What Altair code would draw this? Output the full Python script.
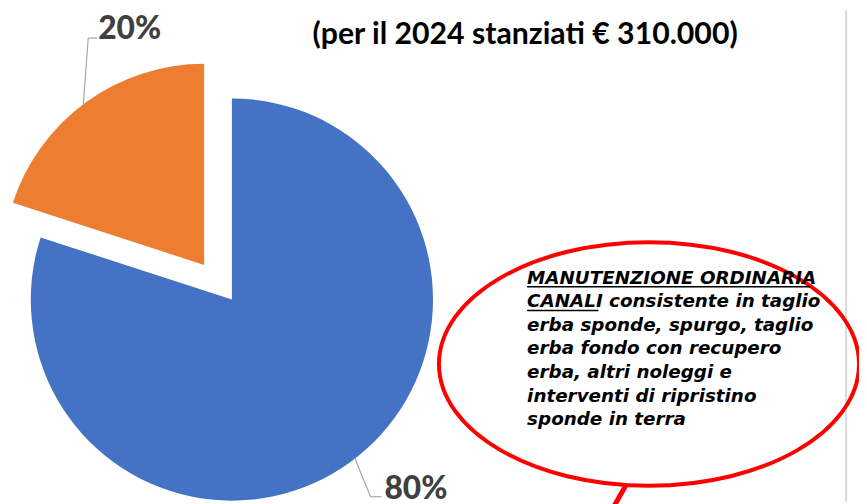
import altair as alt
import pandas as pd

# ---- data ----
categories = ["Manutenzione ordinaria canali", "Altri interventi"]
values = [80, 20]
order_idx = [0, 1]
pct_labels = ["80%", "20%"]
colors = ["#4472C4", "#ED7D31"]

title_text = "(per il 2024 stanziati € 310.000)"
note_lines = [
    "MANUTENZIONE ORDINARIA",
    "CANALI consistente in taglio",
    "erba sponde, spurgo, taglio",
    "erba fondo con recupero",
    "erba, altri noleggi e",
    "interventi di ripristino",
    "sponde in terra",
]

df = pd.DataFrame({"cat": categories, "value": values, "ord": order_idx, "label": pct_labels})

W, H = 859, 496
R = 203
FONT = "Lato"

theta = alt.Theta("value:Q", stack=True)
color = alt.Color("cat:N", scale=alt.Scale(domain=categories, range=colors), legend=None)
order = alt.Order("ord:Q")

blue = alt.Chart(df).mark_arc(outerRadius=R, stroke=None).encode(
    theta=theta, color=color, order=order,
    x=alt.value(226), y=alt.value(292),
    opacity=alt.condition(alt.datum.cat == categories[0], alt.value(1), alt.value(0)),
)
orange = alt.Chart(df).mark_arc(outerRadius=R, stroke=None).encode(
    theta=theta, color=color, order=order,
    x=alt.value(198), y=alt.value(257),
    opacity=alt.condition(alt.datum.cat == categories[1], alt.value(1), alt.value(0)),
)

leader_col = "#A6A6A6"
seg = pd.DataFrame({"a": [0]})
def rule(x1, y1, x2, y2, col, w):
    return alt.Chart(seg).mark_rule(color=col, strokeWidth=w).encode(
        x=alt.value(x1), y=alt.value(y1), x2=alt.value(x2), y2=alt.value(y2))

leaders = [
    rule(76, 95, 81, 28, leader_col, 1.2),
    rule(81, 28, 90, 28, leader_col, 1.2),
    rule(350, 452, 366, 491, leader_col, 1.2),
    rule(366, 491, 377, 491, leader_col, 1.2),
]

lab20 = alt.Chart(df).transform_filter(alt.datum.cat == categories[1]).mark_text(
    font=FONT, fontWeight=900, fontSize=32, color="#404040", align="left", baseline="alphabetic"
).encode(text="label:N", x=alt.value(91), y=alt.value(29))
lab80 = alt.Chart(df).transform_filter(alt.datum.cat == categories[0]).mark_text(
    font=FONT, fontWeight=900, fontSize=32, color="#404040", align="left", baseline="alphabetic"
).encode(text="label:N", x=alt.value(380), y=alt.value(493))

title = alt.Chart(seg).mark_text(
    font=FONT, fontWeight="bold", fontSize=30.5, color="#000000", align="center", baseline="alphabetic"
).encode(text=alt.value(title_text), x=alt.value(522), y=alt.value(34))

ellipse = alt.Chart(seg).mark_point(
    shape="M -1 0 A 1 0.58 0 1 1 1 0 A 1 0.58 0 1 1 -1 0 Z",
    filled=False, stroke="#FF0000", strokeWidth=4, size=424 * 424, opacity=1,
).encode(x=alt.value(647), y=alt.value(357))

pointer = rule(624, 479, 612, 500, "#FF0000", 5)
vline = rule(846, 0, 846, H, "#D9D9D9", 2)

note = alt.Chart(seg).mark_text(
    font="DejaVu Sans", fontWeight="bold", fontStyle="italic", fontSize=18.5, color="#000000",
    align="left", baseline="alphabetic", lineHeight=23.8,
).encode(text=alt.value(note_lines), x=alt.value(524), y=alt.value(276))

underlines = [
    rule(524, 279, 810, 279, "#000000", 1.5),
    rule(524, 303, 596, 303, "#000000", 1.5),
]

chart = alt.layer(
    vline, blue, orange, *leaders, lab20, lab80, title, ellipse, pointer, note, *underlines
).properties(
    width=W, height=H, padding=0, autosize=alt.AutoSizeParams(type="none")
).configure_view(stroke=None)

chart.save("out.html", embed_options={"renderer": "svg", "actions": False})
